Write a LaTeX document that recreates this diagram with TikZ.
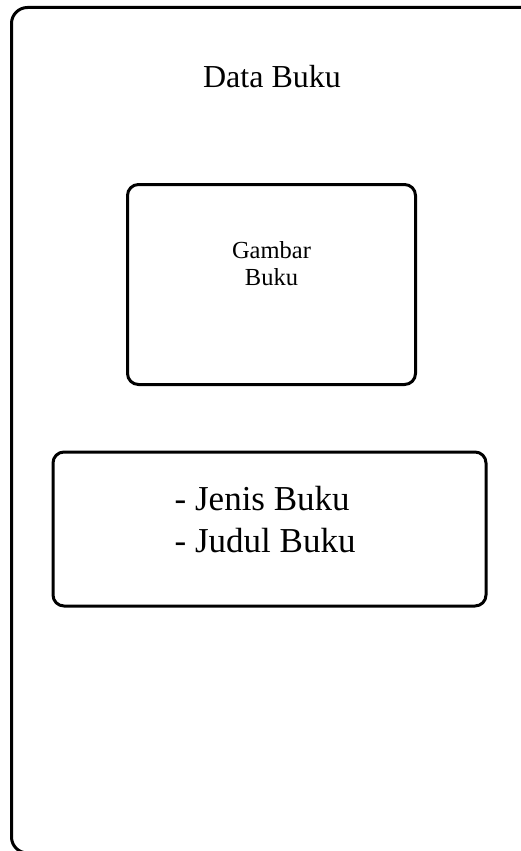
\documentclass[tikz,border=0pt]{standalone}
\usepackage{fontspec}
\setmainfont{Liberation Serif}
\begin{document}
\begin{tikzpicture}[x=1pt,y=1pt,
  frame/.style={draw=black,line width=3pt,rounded corners=16pt},
  boxx/.style={draw=black,line width=3pt,rounded corners=11pt},
  lbl/.style={inner sep=0pt,anchor=base,text=black}]
\useasboundingbox (0,0) rectangle (521,-851);
\begin{scope}
\clip (0,0) rectangle (521,-851);
\draw[frame] (11.5,-7.5) rectangle (560,-853);
\end{scope}
\node[lbl,font=\fontsize{32}{36}\selectfont] (title) at (272,-88) {Data Buku};
\draw[boxx] (127.5,-184.5) rectangle (415.5,-384.5);
\node[lbl,font=\fontsize{24.5}{27}\selectfont] (img1) at (271.5,-258) {Gambar};
\node[lbl,font=\fontsize{24.5}{27}\selectfont] (img2) at (271.5,-285) {Buku};
\draw[boxx] (53,-452) rectangle (486,-606);
\node[lbl,font=\fontsize{35}{40}\selectfont,anchor=base west] (l1) at (174.5,-510) {- Jenis Buku};
\node[lbl,font=\fontsize{35}{40}\selectfont,anchor=base west] (l2) at (174.5,-552) {- Judul Buku};
\end{tikzpicture}
\end{document}
